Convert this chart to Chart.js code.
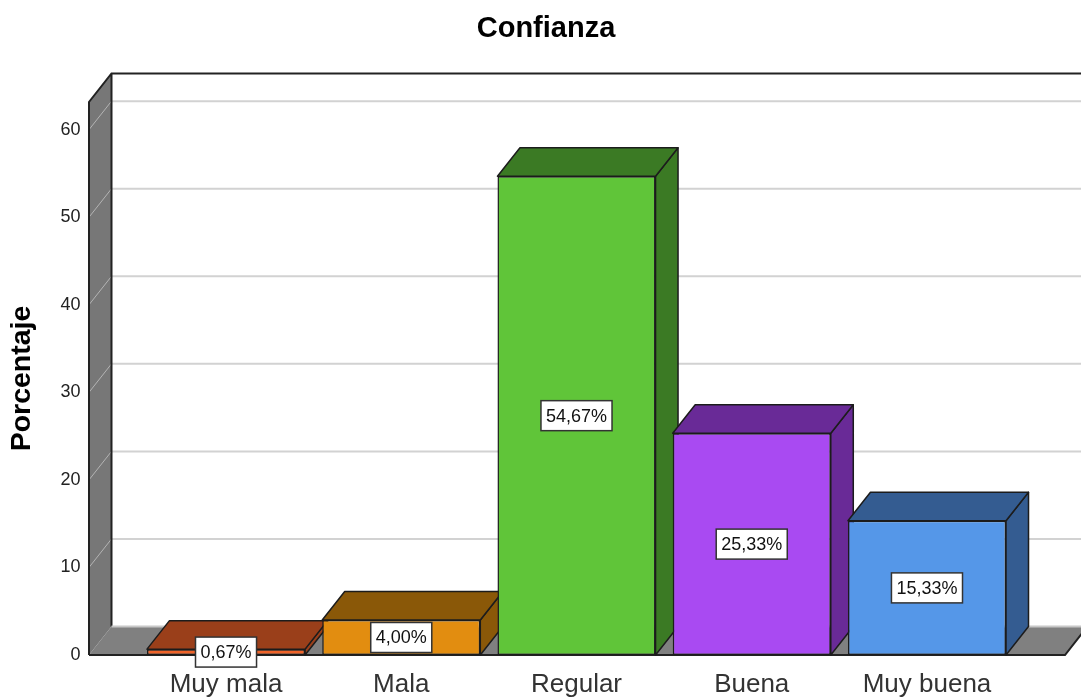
<!DOCTYPE html>
<html>
<head>
<meta charset="utf-8">
<title>Confianza</title>
<script src="https://cdn.jsdelivr.net/npm/chart.js@4"></script>
<style>
  html, body { margin: 0; padding: 0; background: #fff; overflow: hidden; }
  canvas { display: block; }
</style>
</head>
<body>
<canvas id="myChart" width="1081" height="697"></canvas>
<script>
const categories = ['Muy mala', 'Mala', 'Regular', 'Buena', 'Muy buena'];
const percentages = [0.67, 4.00, 54.67, 25.33, 15.33];
const frontColors = ['#F0642A', '#E28D10', '#60C539', '#A94AF2', '#5597E8'];
const darkColors = ['#9A3F1A', '#8A5808', '#3B7A24', '#692A97', '#345C91'];

const DX = 22.5, DY = -28.5;   // depth of the fake 3D
const FONT = '"Liberation Sans", Arial, sans-serif';

function poly(ctx, pts, fill, stroke, lw) {
    ctx.beginPath();
    pts.forEach((p, i) => i ? ctx.lineTo(p[0], p[1]) : ctx.moveTo(p[0], p[1]));
    ctx.closePath();
    if (fill) { ctx.fillStyle = fill; ctx.fill(); }
    if (stroke) { ctx.strokeStyle = stroke; ctx.lineWidth = lw || 2; ctx.lineJoin = 'round'; ctx.stroke(); }
}

// walls, floor and the top and side of each bar
const box3d = {
    id: 'box3d',
    beforeDatasetsDraw(chart) {
        const { ctx, chartArea: a, scales: { y } } = chart;
        const left = a.left - 49.4, right = a.right + 50.4, bottom = a.bottom, top = a.top;
        ctx.save();
        // floor and left wall
        poly(ctx, [[left, bottom], [left + DX, bottom + DY], [right + DX, bottom + DY], [right, bottom]], '#808080');
        poly(ctx, [[left, top], [left + DX, top + DY], [left + DX, bottom + DY], [left, bottom]], '#777777');
        // grid lines
        y.ticks.forEach(t => {
            if (t.value === 0) return;
            const py = y.getPixelForValue(t.value);
            ctx.beginPath();
            ctx.moveTo(left + DX, py + DY);
            ctx.lineTo(1081, py + DY);
            ctx.strokeStyle = '#d2d2d2';
            ctx.lineWidth = 2;
            ctx.stroke();
            ctx.beginPath();
            ctx.moveTo(left, py);
            ctx.lineTo(left + DX, py + DY);
            ctx.strokeStyle = '#b4b4b4';
            ctx.lineWidth = 1;
            ctx.stroke();
        });
        // frame
        ctx.strokeStyle = '#222';
        ctx.lineWidth = 2;
        ctx.beginPath();
        ctx.moveTo(left, bottom);
        ctx.lineTo(left, top);
        ctx.lineTo(left + DX, top + DY);
        ctx.lineTo(1081, top + DY);
        ctx.moveTo(left + DX, top + DY);
        ctx.lineTo(left + DX, bottom + DY);
        ctx.moveTo(left, bottom);
        ctx.lineTo(right, bottom);
        ctx.lineTo(right + DX, bottom + DY);
        ctx.stroke();
        ctx.beginPath();
        ctx.moveTo(left + DX, bottom + DY);
        ctx.lineTo(1081, bottom + DY);
        ctx.strokeStyle = '#c8c8c8';
        ctx.stroke();
        // bar sides
        chart.getDatasetMeta(0).data.forEach((bar, i) => {
            const x0 = bar.x - bar.width / 2, x1 = bar.x + bar.width / 2;
            poly(ctx, [[x1, bar.y], [x1 + DX, bar.y + DY], [x1 + DX, bar.base + DY], [x1, bar.base]], darkColors[i], '#1c1c1c', 1.5);
            poly(ctx, [[x0, bar.y], [x0 + DX, bar.y + DY], [x1 + DX, bar.y + DY], [x1, bar.y]], darkColors[i], '#1c1c1c', 1.5);
        });
        ctx.restore();
    },
    afterDatasetsDraw(chart) {
        const { ctx } = chart;
        ctx.save();
        ctx.font = '18px ' + FONT;
        ctx.textAlign = 'center';
        ctx.textBaseline = 'middle';
        chart.getDatasetMeta(0).data.forEach((bar, i) => {
            const text = percentages[i].toFixed(2).replace('.', ',') + '%';
            const w = ctx.measureText(text).width + 10, h = 30;
            const cy = (bar.y + bar.base) / 2;
            ctx.fillStyle = '#fff';
            ctx.strokeStyle = '#333';
            ctx.lineWidth = 1.5;
            ctx.fillRect(bar.x - w / 2, cy - h / 2, w, h);
            ctx.strokeRect(bar.x - w / 2, cy - h / 2, w, h);
            ctx.fillStyle = '#111';
            ctx.fillText(text, bar.x, cy + 1);
        });
        ctx.restore();
    }
};

new Chart(document.getElementById('myChart').getContext('2d'), {
    type: 'bar',
    data: {
        labels: categories,
        datasets: [{
            label: 'Porcentaje',
            data: percentages,
            backgroundColor: frontColors,
            borderColor: '#1c1c1c',
            borderWidth: 1.5,
            borderSkipped: false,
            barPercentage: 0.902,
            categoryPercentage: 1
        }]
    },
    plugins: [box3d],
    options: {
        responsive: false,
        animation: false,
        layout: { padding: { left: 11, right: 0, top: 0, bottom: 0 } },
        plugins: {
            legend: { display: false },
            tooltip: { enabled: false },
            title: {
                display: true,
                text: 'Confianza',
                color: '#000',
                font: { family: FONT, size: 29, weight: 'bold', lineHeight: 1.2 },
                padding: { top: 12, bottom: 55.2 }
            }
        },
        scales: {
            x: {
                grid: { display: false, drawTicks: false },
                border: { display: false },
                afterFit(scale) { scale.height = 42; },
                ticks: {
                    autoSkip: false,
                    maxRotation: 0,
                    padding: 14,
                    color: '#333',
                    font: { family: FONT, size: 26 }
                }
            },
            y: {
                min: 0,
                max: 63.16,
                afterFit(scale) {
                    scale.width = 127.4;
                    // tick padding is only there to push the labels left
                    scale.paddingTop = 0;
                    scale.paddingBottom = 0;
                },
                grid: { display: false, drawTicks: false },
                border: { display: false },
                title: {
                    display: true,
                    text: 'Porcentaje',
                    color: '#000',
                    font: { family: FONT, size: 28.5, weight: 'bold', lineHeight: 0.8 },
                    padding: 0
                },
                ticks: {
                    stepSize: 10,
                    includeBounds: false,
                    padding: 58,
                    color: '#222',
                    font: { family: FONT, size: 18 }
                }
            },
            // empty axis, only keeps the room on the right of the bars
            spacer: {
                position: 'right',
                grid: { display: false, drawTicks: false },
                border: { display: false },
                ticks: { display: false },
                afterFit(scale) { scale.width = 66.4; }
            }
        }
    }
});
</script>
</body>
</html>
